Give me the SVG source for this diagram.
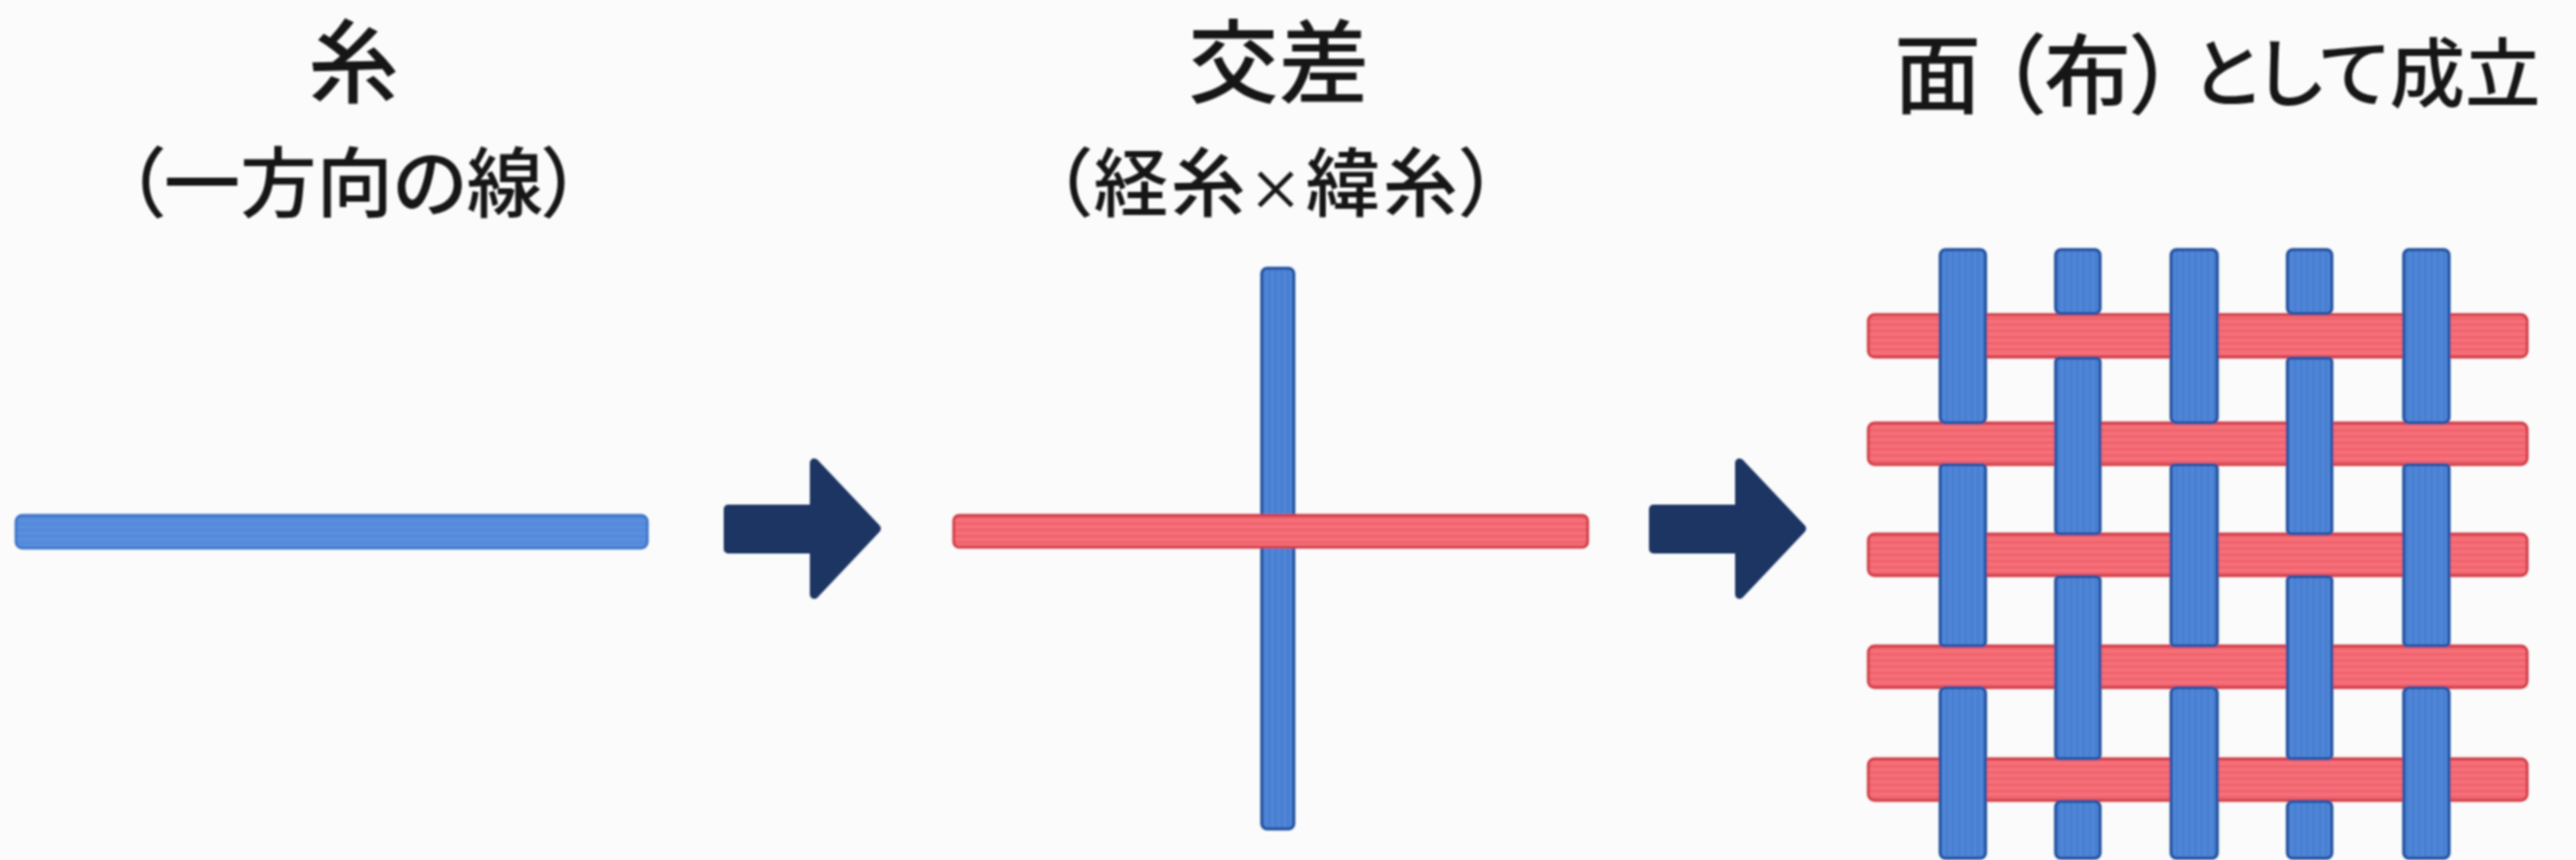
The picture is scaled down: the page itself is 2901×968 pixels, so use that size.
<svg xmlns="http://www.w3.org/2000/svg" width="2901" height="968" viewBox="0 0 2901 968">
<style>
text{font-family:"Noto Sans CJK JP","Noto Sans CJK SC",sans-serif;fill:#121212;text-anchor:middle;font-weight:500;font-feature-settings:'palt'}
.t{font-size:102px}
.s1{font-size:86px}
.s2{font-size:84px;letter-spacing:3px}
.x{font-size:62px}
.f1{font-size:98px}
.f2{font-size:85px}
.r{fill:url(#redH);stroke:#cf3a42;stroke-width:3}
.b{fill:url(#blueV);stroke:#24529f;stroke-width:3.5}
.bh{fill:url(#blueH);stroke:#3c74c8;stroke-width:3}
.a{fill:#1d3663;stroke:#1d3663;stroke-width:10;stroke-linejoin:round}
</style>
<defs>
<pattern id="redH" patternUnits="userSpaceOnUse" width="7" height="7"><rect width="7" height="7" fill="#f5707a"/><rect width="7" height="3" fill="#f0626b"/></pattern>
<pattern id="blueV" patternUnits="userSpaceOnUse" width="7" height="7"><rect width="7" height="7" fill="#5086d8"/><rect width="3" height="7" fill="#4a7ed0"/></pattern>
<pattern id="blueH" patternUnits="userSpaceOnUse" width="7" height="7"><rect width="7" height="7" fill="#5a8fe0"/><rect width="7" height="3" fill="#5388da"/></pattern>
<filter id="soft" x="-5%" y="-5%" width="110%" height="110%"><feGaussianBlur stdDeviation="1"/></filter>
</defs>
<rect width="2901" height="968" fill="#fbfbfb"/>
<g filter="url(#soft)">
<g id="node-thread">
<text class="t" x="398" y="108">糸</text>
<text class="s1" x="398" y="238">（一方向の線）</text>
<rect class="bh" x="18" y="580" width="711" height="37" rx="7"/>
</g>
<g id="node-crossing">
<text class="t" x="1440" y="108">交差</text>
<text class="s2" x="1438" y="237">（経糸<tspan class="x">×</tspan>緯糸）</text>
<rect class="b" x="1421" y="302" width="36" height="631" rx="6"/>
<rect class="r" x="1074" y="580" width="714" height="36" rx="6"/>
</g>
<g id="node-fabric">
<text class="f1" x="2182" y="120">面</text>
<text class="f1" x="2351" y="120">（布）</text>
<text class="f2" x="2861" y="114" style="text-anchor:end">として成立</text>
<g id="weft">
<rect class="r" x="2104" y="354" width="742" height="48" rx="7"/>
<rect class="r" x="2104" y="476" width="742" height="47" rx="7"/>
<rect class="r" x="2104" y="601" width="742" height="47" rx="7"/>
<rect class="r" x="2104" y="727" width="742" height="47" rx="7"/>
<rect class="r" x="2104" y="854" width="742" height="47" rx="7"/>
</g>
<g id="warp">
<rect class="b" x="2185" y="281" width="51" height="195" rx="6"/>
<rect class="b" x="2185" y="523" width="51" height="204" rx="4"/>
<rect class="b" x="2185" y="774" width="51" height="192" rx="6"/>
<rect class="b" x="2315" y="281" width="50" height="72" rx="6"/>
<rect class="b" x="2315" y="403" width="50" height="198" rx="4"/>
<rect class="b" x="2315" y="649" width="50" height="205" rx="4"/>
<rect class="b" x="2315" y="902" width="50" height="64" rx="6"/>
<rect class="b" x="2445" y="281" width="52" height="195" rx="6"/>
<rect class="b" x="2445" y="523" width="52" height="204" rx="4"/>
<rect class="b" x="2445" y="774" width="52" height="192" rx="6"/>
<rect class="b" x="2576" y="281" width="50" height="72" rx="6"/>
<rect class="b" x="2576" y="403" width="50" height="198" rx="4"/>
<rect class="b" x="2576" y="649" width="50" height="205" rx="4"/>
<rect class="b" x="2576" y="902" width="50" height="64" rx="6"/>
<rect class="b" x="2707" y="281" width="51" height="195" rx="6"/>
<rect class="b" x="2707" y="523" width="51" height="204" rx="4"/>
<rect class="b" x="2707" y="774" width="51" height="192" rx="6"/>
</g>
</g>
<g id="connectors">
<path class="a" d="M820 573H917V521L987 595L917 669V618H820Z"/>
<path class="a" d="M1862 573H1959V521L2029 595L1959 669V618H1862Z"/>
</g>
</g>
</svg>
